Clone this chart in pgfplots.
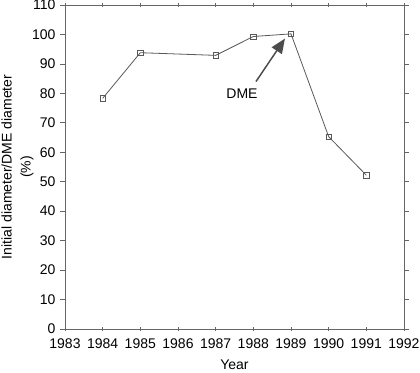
\documentclass[border=0pt]{standalone}
\usepackage{pgfplots}
\pgfplotsset{compat=1.18}
\usepackage{fontspec}
\setmainfont{Liberation Sans}
\usetikzlibrary{arrows.meta}
\begin{document}
\fontsize{10.5}{12}\selectfont
\begin{tikzpicture}
\useasboundingbox (-48.75pt,-33pt) rectangle (266.25pt,246.75pt);
\begin{axis}[
  at={(0,0)}, anchor=south west,
  scale only axis,
  width=254.25pt, height=243pt,
  xmin=1983, xmax=1992, ymin=0, ymax=110,
  xtick={1983,...,1992}, ytick={0,10,...,110},
  /pgf/number format/assume math mode=true,
  /pgf/number format/set thousands separator={},
  axis line style={gray!80!black, line width=0.6pt},
  x tick style={gray!80!black, line width=0.5pt},
  y tick style={gray!80!black, line width=0.5pt},
  xtick align=center, ytick align=outside,
  major tick length=3.5pt,
  tick label style={font=\fontsize{10.5}{12}\selectfont, black},
  xticklabel style={yshift=-2pt},
  xlabel={Year},
  ylabel={Initial diameter/DME diameter\\(\%)},
  ylabel style={align=center, font=\fontsize{10.5}{14.25}\selectfont, at={(axis description cs:-0.14,0.5)}, anchor=center},
  xlabel style={font=\fontsize{10.5}{12}\selectfont, at={(axis description cs:0.5,-0.111)}, anchor=center},
  clip=false,
]
\addplot[gray!70!black, line width=0.6pt, mark=square, mark size=2pt, mark options={solid, fill=white, line width=0.5pt}]
coordinates {(1984,78.3) (1985,93.8) (1987,92.9) (1988,99.3) (1989,100.2) (1990,65.3) (1991,52.2)};
\draw[-{Triangle[length=11pt,width=9pt]}, gray!60!black, line width=1.1pt] (axis cs:1988.07,84) -- (axis cs:1988.84,98.6);
\node[font=\fontsize{10.5}{12}\selectfont] at (axis cs:1987.70,80.0) {DME};
\end{axis}
\end{tikzpicture}
\end{document}
